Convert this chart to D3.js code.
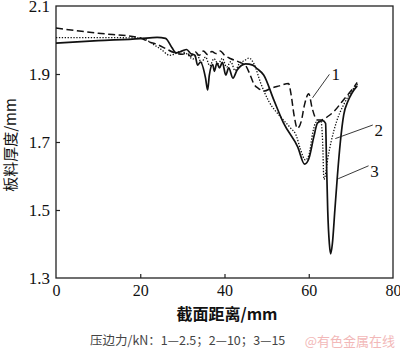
<!DOCTYPE html>
<html>
<head>
<meta charset="utf-8">
<script src="https://cdn.jsdelivr.net/npm/d3@7"></script>
<style>
  body { margin: 0; background: #fff; }
  svg { display: block; }
</style>
</head>
<body>
<svg width="400" height="350"></svg>
<script>
// x: 截面距离 (mm), y: 板料厚度 (mm)
const xTicks = [0, 20, 40, 60, 80]
const yTicks = [1.3, 1.5, 1.7, 1.9, 2.1]

// curve 1 — 2.5 kN (dashed)
const curve1X = [0, 10, 20, 22, 24, 26, 28, 30, 31, 32, 33, 34, 35, 36, 37, 38, 39, 40, 41.5, 43.5, 45, 46, 47, 48, 49.5, 51, 53, 55.2, 55.8, 56.5, 57.3, 58.2, 59, 60, 60.8, 62, 63, 64.5, 66, 68, 70, 71.5]
const curve1Y = [2.035, 2.02, 2.006, 1.995, 1.987, 1.975, 1.963, 1.958, 1.962, 1.952, 1.966, 1.955, 1.968, 1.957, 1.966, 1.96, 1.968, 1.955, 1.945, 1.935, 1.925, 1.9, 1.87, 1.858, 1.85, 1.858, 1.865, 1.872, 1.84, 1.78, 1.74, 1.76, 1.81, 1.842, 1.8, 1.765, 1.765, 1.775, 1.79, 1.82, 1.85, 1.875]

// curve 2 — 10 kN (dotted)
const curve2X = [0, 10, 20, 21, 23, 25, 27, 28, 29.5, 31, 32.5, 33.5, 34.5, 35.5, 36.5, 37.5, 38.5, 39.5, 40.5, 41.5, 42.5, 43.5, 44.8, 45.8, 47, 48.6, 50.5, 53.3, 55.7, 57, 58, 59.2, 60, 61, 61.7, 62.9, 63.3, 63.6, 63.9, 64.5, 65.3, 66.6, 68.3, 70.5, 71.6]
const curve2Y = [2.007, 2.007, 2.006, 2.003, 1.988, 1.972, 1.955, 1.958, 1.966, 1.96, 1.944, 1.956, 1.934, 1.95, 1.924, 1.945, 1.93, 1.946, 1.92, 1.936, 1.91, 1.93, 1.94, 1.947, 1.93, 1.873, 1.82, 1.774, 1.741, 1.72, 1.68, 1.647, 1.66, 1.73, 1.758, 1.76, 1.7, 1.59, 1.6, 1.65, 1.7, 1.76, 1.81, 1.855, 1.87]

// curve 3 — 15 kN (solid)
const curve3X = [0, 10, 20, 24, 26, 27.5, 28.5, 30, 31, 32, 33, 33.6, 34.3, 35.5, 36, 36.4, 37.2, 37.6, 38.2, 38.8, 39.5, 40.3, 41, 42, 43, 44, 45, 46.7, 47.8, 49.3, 51.7, 54, 57.4, 59, 60, 61.2, 62.1, 63.3, 64, 64.2, 64.5, 64.9, 65.2, 65.6, 66.2, 66.8, 67.5, 68.3, 69.3, 70.3, 71.5]
const curve3Y = [1.991, 1.998, 2.004, 2.008, 2.005, 1.978, 1.962, 1.968, 1.972, 1.96, 1.955, 1.926, 1.935, 1.888, 1.853, 1.897, 1.928, 1.908, 1.932, 1.918, 1.934, 1.897, 1.918, 1.888, 1.912, 1.925, 1.93, 1.926, 1.915, 1.897, 1.824, 1.756, 1.685, 1.635, 1.65, 1.715, 1.756, 1.763, 1.755, 1.65, 1.5, 1.4, 1.371, 1.4, 1.5, 1.6, 1.7, 1.78, 1.82, 1.845, 1.865]

const series = [
  { name: '1', xs: curve1X, ys: curve1Y, dash: '7,3.5', width: 1.5 },
  { name: '2', xs: curve2X, ys: curve2Y, dash: '1.3,1.6', width: 1.3 },
  { name: '3', xs: curve3X, ys: curve3Y, dash: null, width: 1.7 },
]

const serif = "'Liberation Serif', 'DejaVu Serif', serif"
const cjk = "'Noto Sans CJK SC', sans-serif"

const svg = d3.select('svg')
const margin = { left: 56, right: 7, top: 6, bottom: 72 }
const W = 400, H = 350

const x = d3.scaleLinear().domain([0, 80]).range([margin.left, W - margin.right])
const y = d3.scaleLinear().domain([1.3, 2.1]).range([H - margin.bottom, margin.top])

// axes, ticks inward
svg.append('g')
  .attr('transform', `translate(0,${y(1.3)})`)
  .call(d3.axisBottom(x).tickValues(xTicks).tickSizeInner(-4).tickSizeOuter(0).tickPadding(6))
  .call((g) => g.select('.domain').remove())
  .call((g) => g.selectAll('.tick line').filter((d) => d == 0 || d == 80).remove())
  .call((g) => g.selectAll('text').style('font-family', serif).attr('font-size', 16).attr('fill', '#111').attr('dy', '0.72em'))

svg.append('g')
  .attr('transform', `translate(${x(0)},0)`)
  .call(d3.axisLeft(y).tickValues(yTicks).tickFormat(d3.format('.1f')).tickSizeInner(-4).tickSizeOuter(0).tickPadding(6))
  .call((g) => g.select('.domain').remove())
  .call((g) => g.selectAll('.tick line').filter((d) => d == 1.3 || d == 2.1).remove())
  .call((g) => g.selectAll('text').style('font-family', serif).attr('font-size', 17).attr('fill', '#111'))

svg.selectAll('.tick line').attr('stroke', '#222').attr('stroke-width', 1.2)

// frame
svg.append('rect')
  .attr('x', x(0)).attr('y', y(2.1))
  .attr('width', x(80) - x(0)).attr('height', y(1.3) - y(2.1))
  .attr('fill', 'none').attr('stroke', '#222').attr('stroke-width', 1.3)

// curves
const line = d3.line().curve(d3.curveMonotoneX).x((d) => x(d[0])).y((d) => y(d[1]))
series.forEach((s) => {
  const pts = s.xs.map((v, i) => [v, s.ys[i]])
  svg.append('path')
    .datum(pts)
    .attr('d', line)
    .attr('fill', 'none')
    .attr('stroke', '#111')
    .attr('stroke-width', s.width)
    .attr('stroke-dasharray', s.dash)
})

// curve labels with leader lines
const labels = [
  { t: '1', from: [60.9, 1.83], to: [64.9, 1.899], at: [65.4, 1.9] },
  { t: '2', from: [66.3, 1.71], to: [75.2, 1.75], at: [75.6, 1.735] },
  { t: '3', from: [67.0, 1.592], to: [74.2, 1.63], at: [74.6, 1.615] },
]
labels.forEach((l) => {
  svg.append('line')
    .attr('x1', x(l.from[0])).attr('y1', y(l.from[1]))
    .attr('x2', x(l.to[0])).attr('y2', y(l.to[1]))
    .attr('stroke', '#222').attr('stroke-width', 0.9)
  svg.append('text')
    .attr('x', x(l.at[0])).attr('y', y(l.at[1]))
    .attr('dy', '0.35em')
    .style('font-family', serif)
    .attr('font-size', 17)
    .attr('fill', '#111')
    .text(l.t)
})

// axis titles
svg.append('text')
  .style('font-family', cjk)
  .attr('transform', `translate(16,${(y(1.3) + y(2.1)) / 2 + 3}) rotate(-90)`)
  .attr('text-anchor', 'middle')
  .attr('font-size', 15)
  .attr('fill', '#111')
  .text('板料厚度/mm')

svg.append('text')
  .style('font-family', cjk)
  .attr('x', 227).attr('y', 320)
  .attr('text-anchor', 'middle')
  .attr('font-size', 16)
  .attr('font-weight', 'bold')
  .attr('fill', '#111')
  .text('截面距离/mm')

svg.append('text')
  .style('font-family', cjk)
  .attr('x', 90).attr('y', 345)
  .attr('font-size', 12.5)
  .attr('fill', '#444')
  .text('压边力/kN：1—2.5；2—10；3—15')

svg.append('text')
  .style('font-family', cjk)
  .attr('x', 395).attr('y', 346)
  .attr('text-anchor', 'end')
  .attr('font-size', 13)
  .attr('fill', '#f2b8b8')
  .text('@有色金属在线')
</script>
</body>
</html>
